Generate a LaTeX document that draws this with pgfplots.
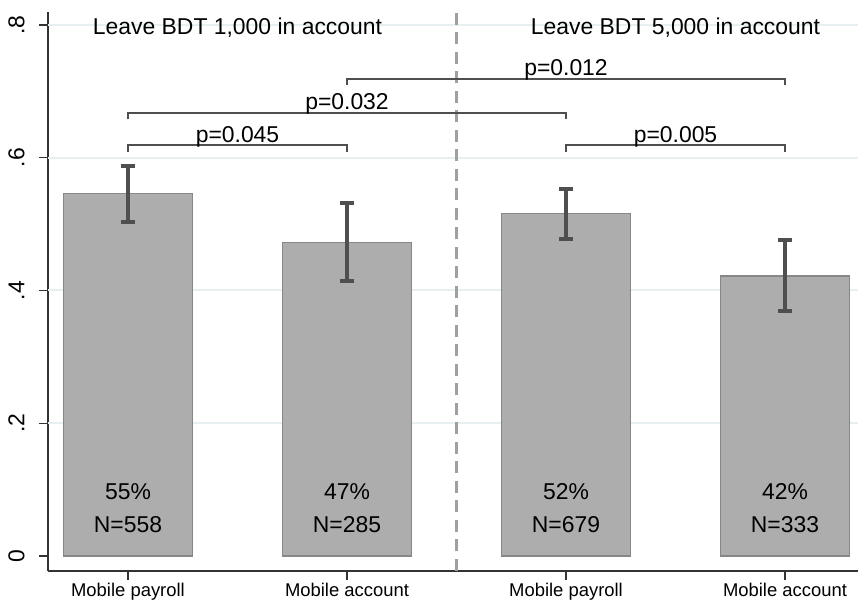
\documentclass[border=0pt]{standalone}
\usepackage{fontspec}
\setmainfont{Liberation Sans}
\usepackage{pgfplots}
\pgfplotsset{compat=1.18}
\definecolor{barfill}{HTML}{ADADAD}
\definecolor{baredge}{HTML}{878787}
\definecolor{errc}{HTML}{4F4F4F}
\definecolor{gridc}{HTML}{E8EFF1}
\definecolor{axc}{HTML}{333333}
\definecolor{dashc}{HTML}{A0A0A0}
\newcommand{\lbl}{\fontsize{23}{27}\selectfont}
\begin{document}
\begin{tikzpicture}
\useasboundingbox (0,0) rectangle (858bp,601bp);
\begin{axis}[
  at={(48bp,30bp)}, anchor=south west,
  scale only axis, width=810bp, height=559bp,
  xmin=0.6347, xmax=4.3333, ymin=-0.0226, ymax=0.8196,
  axis x line*=bottom, axis y line*=left,
  xtick={1,2,3,4},
  xticklabels={Mobile payroll, Mobile account, Mobile payroll, Mobile account},
  ytick={0,0.2,0.4,0.6,0.8},
  yticklabels={0,.2,.4,.6,.8},
  tick align=outside, major tick length=9bp,
  tick style={axc, line width=1.3bp},
  axis line style={axc, line width=1.5bp},
  yticklabel shift=8bp,
  yticklabel style={xshift=-3bp, rotate=90, anchor=south, font=\fontsize{23}{26}\selectfont},
  xticklabel style={font=\fontsize{18.5}{22}\selectfont},
  clip=false,
]
% grid lines
\addplot[gridc, line width=2bp, forget plot] coordinates {(0.6347,0.2) (4.3333,0.2)};
\addplot[gridc, line width=2bp, forget plot] coordinates {(0.6347,0.4) (4.3333,0.4)};
\addplot[gridc, line width=2bp, forget plot] coordinates {(0.6347,0.6) (4.3333,0.6)};
\addplot[gridc, line width=2bp, forget plot] coordinates {(0.6347,0.8) (4.3333,0.8)};
% divider
\addplot[dashc, line width=3bp, dash pattern=on 12bp off 7.5bp, forget plot] coordinates {(2.5,-0.0226) (2.5,0.8196)};
% bars
\addplot[ybar, bar width=0.588, fill=barfill, draw=baredge, line width=1.5bp,
  error bars/.cd, y dir=both, y explicit,
  error bar style={errc, line width=4bp},
  error mark options={errc, line width=4bp, mark size=7bp, rotate=90}]
coordinates {
  (1,0.546) += (0,0.0416) -= (0,0.0423)
  (2,0.472) += (0,0.0593) -= (0,0.0577)
  (3,0.516) += (0,0.0374) -= (0,0.0380)
  (4,0.422) += (0,0.0546) -= (0,0.0530)
};
% brackets
\addplot[errc, line width=2.2bp, forget plot] coordinates {(1,0.609) (1,0.619) (2,0.619) (2,0.609)};
\addplot[errc, line width=2.2bp, forget plot] coordinates {(1,0.658) (1,0.668) (3,0.668) (3,0.658)};
\addplot[errc, line width=2.2bp, forget plot] coordinates {(2,0.709) (2,0.719) (4,0.719) (4,0.709)};
\addplot[errc, line width=2.2bp, forget plot] coordinates {(3,0.609) (3,0.619) (4,0.619) (4,0.609)};
\node[anchor=base, inner sep=0pt, yshift=3bp, font=\lbl] at (axis cs:1.5,0.619) {p=0.045};
\node[anchor=base, inner sep=0pt, yshift=3bp, font=\lbl] at (axis cs:2,0.668) {p=0.032};
\node[anchor=base, inner sep=0pt, yshift=3bp, font=\lbl] at (axis cs:3,0.719) {p=0.012};
\node[anchor=base, inner sep=0pt, yshift=3bp, font=\lbl] at (axis cs:3.5,0.619) {p=0.005};
% titles
\node[anchor=base, inner sep=0pt, font=\lbl] at (axis cs:1.5,0.786) {Leave BDT 1,000 in account};
\node[anchor=base, inner sep=0pt, font=\lbl] at (axis cs:3.5,0.786) {Leave BDT 5,000 in account};
% bar labels
\node[anchor=base, inner sep=0pt, font=\lbl] at (axis cs:1,0.0844) {55\%};
\node[anchor=base, inner sep=0pt, font=\lbl] at (axis cs:1,0.0357) {N=558};
\node[anchor=base, inner sep=0pt, font=\lbl] at (axis cs:2,0.0844) {47\%};
\node[anchor=base, inner sep=0pt, font=\lbl] at (axis cs:2,0.0357) {N=285};
\node[anchor=base, inner sep=0pt, font=\lbl] at (axis cs:3,0.0844) {52\%};
\node[anchor=base, inner sep=0pt, font=\lbl] at (axis cs:3,0.0357) {N=679};
\node[anchor=base, inner sep=0pt, font=\lbl] at (axis cs:4,0.0844) {42\%};
\node[anchor=base, inner sep=0pt, font=\lbl] at (axis cs:4,0.0357) {N=333};
\end{axis}
\end{tikzpicture}
\end{document}
